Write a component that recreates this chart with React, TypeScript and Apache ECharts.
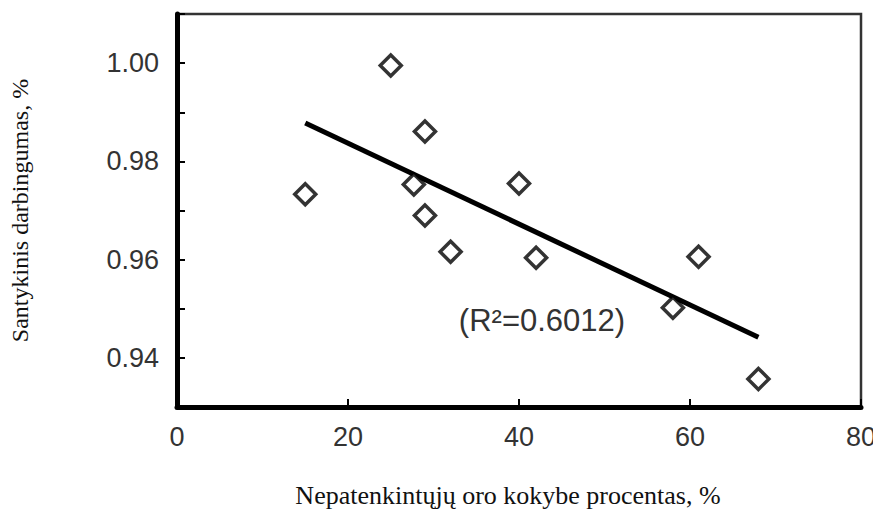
import React, { useEffect, useRef } from "react";
import * as echarts from "echarts";

const xValues = [15, 25, 29, 27.7, 29, 32, 40, 42, 58, 61, 68];
const yValues = [0.9733, 0.9995, 0.9861, 0.9753, 0.969, 0.9616, 0.9755, 0.9604, 0.9502, 0.9606, 0.9357];
const trendX = [15, 68];
const trendY = [0.9878, 0.9442];
const yTickLabels = ["0.94", "0.96", "0.98", "1.00"];
const xTickLabels = ["0", "20", "40", "60", "80"];
const xTitle = "Nepatenkintųjų oro kokybe procentas, %";
const yTitle = "Santykinis darbingumas, %";
const r2Text = "(R²=0.6012)";

export default function App() {
  const ref = useRef<HTMLDivElement>(null);
  useEffect(() => {
    if (!ref.current) return;
    const chart = echarts.init(ref.current, null, { renderer: "svg" });
    const pts = xValues.map((x, i) => [x, yValues[i]]);
    const trend = trendX.map((x, i) => [x, trendY[i]]);
    chart.setOption({
      animation: false,
      backgroundColor: "#fff",
      grid: {
        left: 177,
        right: 12,
        top: 14,
        bottom: 111,
        containLabel: false,
        outerBoundsMode: "none",
        show: true,
        borderColor: "#333",
        borderWidth: 2.5,
      },
      xAxis: {
        type: "value",
        min: 0,
        max: 80,
        interval: 20,
        name: xTitle,
        nameLocation: "middle",
        nameGap: 75,
        nameTextStyle: {
          fontFamily: "Liberation Serif, Times New Roman, serif",
          fontSize: 26,
          color: "#111",
          padding: [0, 22, 0, 0],
        },
        axisLine: { show: true, onZero: false, lineStyle: { color: "#000", width: 5 } },
        axisTick: { show: true, inside: true, length: 8, lineStyle: { color: "#000", width: 2 } },
        axisLabel: {
          margin: 16,
          fontFamily: "Liberation Sans, Arial, sans-serif",
          fontSize: 27,
          color: "#333",
          formatter: (v: number) => {
            const s = String(Math.round(v));
            return xTickLabels.includes(s) ? s : "";
          },
        },
        splitLine: { show: false },
      },
      yAxis: {
        type: "value",
        min: 0.93,
        max: 1.01,
        interval: 0.01,
        name: yTitle,
        nameLocation: "middle",
        nameGap: 145,
        nameRotate: 90,
        nameTextStyle: { fontFamily: "Liberation Serif, Times New Roman, serif", fontSize: 24, color: "#111" },
        axisLine: { show: true, onZero: false, lineStyle: { color: "#000", width: 5 } },
        axisTick: { show: true, inside: true, length: 8, lineStyle: { color: "#000", width: 2 } },
        axisLabel: {
          margin: 18,
          fontFamily: "Liberation Sans, Arial, sans-serif",
          fontSize: 27,
          color: "#333",
          formatter: (v: number) => {
            const s = v.toFixed(2);
            return yTickLabels.includes(s) ? s : "";
          },
        },
        splitLine: { show: false },
      },
      graphic: [
        {
          type: "text",
          x: 542,
          y: 320,
          style: {
            text: r2Text,
            fontFamily: "Liberation Sans, Arial, sans-serif",
            fontSize: 31,
            fill: "#333",
            textAlign: "center",
            textVerticalAlign: "middle",
          },
        },
      ],
      series: [
        {
          type: "line",
          data: trend,
          symbol: "none",
          lineStyle: { color: "#000", width: 5 },
          z: 2,
        },
        {
          type: "scatter",
          data: pts,
          symbol: "diamond",
          symbolSize: [21, 21],
          itemStyle: { color: "#fff", borderColor: "#000", borderWidth: 3.5 },
          z: 3,
        },
      ],
    });
    return () => chart.dispose();
  }, []);
  return (
    <div
      ref={ref}
      style={{ position: "absolute", left: 0, top: 0, width: 873, height: 518 }}
    />
  );
}
